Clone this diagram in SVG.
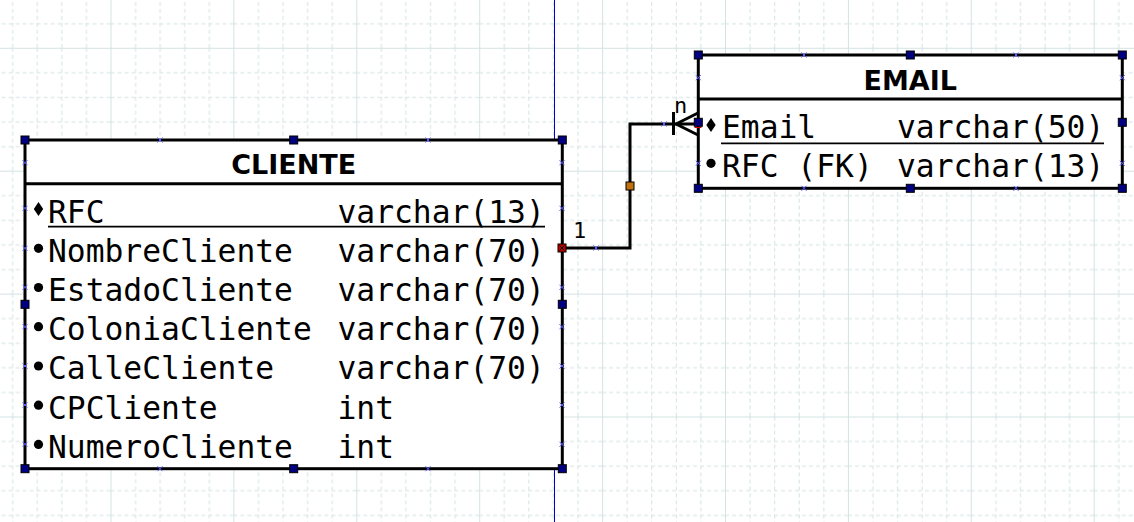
<svg xmlns="http://www.w3.org/2000/svg" width="1134" height="522" viewBox="0 0 1134 522">
<style>
.box{fill:#ffffff;stroke:#000000;stroke-width:3}
.sep{stroke:#000000;stroke-width:3}
.hdr{font-family:"DejaVu Sans","Liberation Sans",sans-serif;font-weight:bold;font-size:27px;text-anchor:middle;fill:#000}
.att{font-family:"DejaVu Sans Mono","Liberation Mono",monospace;font-size:31.3px;fill:#000}
.lbl{font-family:"DejaVu Sans Mono","Liberation Mono",monospace;font-size:22px;fill:#000}
.ul{stroke:#000;stroke-width:1.8}
.conn{fill:none;stroke:#000;stroke-width:3}
.h{fill:#000080;stroke:#000;stroke-width:1}
.cp{stroke:#5a5aff;stroke-width:1;fill:none}
</style>
<defs>
<pattern id="grid" patternUnits="userSpaceOnUse" x="110.5" y="47.8" width="122.9" height="122.9">
<g stroke="#d3e3e2" stroke-width="1" fill="none">
<path d="M0.5,0V122.9M0,0.5H122.9"/>
<path stroke-dasharray="4 3" d="M25.08,0V122.9M49.66,0V122.9M74.24,0V122.9M98.82,0V122.9M0,25.08H122.9M0,49.66H122.9M0,74.24H122.9M0,98.82H122.9"/>
</g>
</pattern>
<path id="x" d="M-2.5,-2.5L2.5,2.5M-2.5,2.5L2.5,-2.5"/>
</defs>
<rect width="1134" height="522" fill="#ffffff"/>
<rect width="1134" height="522" fill="url(#grid)"/>
<line x1="554.5" y1="0" x2="554.5" y2="522" stroke="#0000c8" stroke-width="1"/>

<g id="connectors">
<path class="conn" d="M562,248H630V124H698"/>
<path class="conn" d="M673.5,112V135" stroke-width="3.5"/>
<path class="conn" d="M676,124L698,113M676,124L698,135"/>
<text class="lbl" x="573" y="237.7">1</text>
<text class="lbl" x="674" y="112.7">n</text>
<g class="cp"><use href="#x" x="596" y="248"/><use href="#x" x="664" y="124"/></g>
</g>

<g id="cliente">
<rect class="box" x="25" y="140" width="537.3" height="328.7"/>
<line class="sep" x1="25" y1="183.7" x2="562.3" y2="183.7"/>
<text class="hdr" x="293.7" y="174">CLIENTE</text>
<line class="ul" x1="48" y1="226.7" x2="545" y2="226.7"/>
<path d="M38.5,202L43.2,209L38.5,216L33.8,209Z" fill="#000"/>
<g fill="#000">
<circle cx="38.5" cy="248.3" r="4.6"/>
<circle cx="38.5" cy="287.5" r="4.6"/>
<circle cx="38.5" cy="326.7" r="4.6"/>
<circle cx="38.5" cy="366" r="4.6"/>
<circle cx="38.5" cy="405.2" r="4.6"/>
<circle cx="38.5" cy="444.4" r="4.6"/>
</g>
<text class="att" x="48" y="222.5">RFC</text>
<text class="att" x="48" y="261.7">NombreCliente</text>
<text class="att" x="48" y="300.9">EstadoCliente</text>
<text class="att" x="48" y="340.1">ColoniaCliente</text>
<text class="att" x="48" y="379.3">CalleCliente</text>
<text class="att" x="48" y="418.5">CPCliente</text>
<text class="att" x="48" y="457.7">NumeroCliente</text>
<text class="att" x="337.5" y="222.5">varchar(13)</text>
<text class="att" x="337.5" y="261.7">varchar(70)</text>
<text class="att" x="337.5" y="300.9">varchar(70)</text>
<text class="att" x="337.5" y="340.1">varchar(70)</text>
<text class="att" x="337.5" y="379.3">varchar(70)</text>
<text class="att" x="337.5" y="418.5">int</text>
<text class="att" x="337.5" y="457.7">int</text>
<g class="cp">
<use href="#x" x="160" y="140"/><use href="#x" x="428" y="140"/>
<use href="#x" x="160" y="468.7"/><use href="#x" x="428" y="468.7"/>
<use href="#x" x="25" y="162.7"/><use href="#x" x="25" y="208.3"/><use href="#x" x="25" y="248.3"/><use href="#x" x="25" y="287.3"/><use href="#x" x="25" y="326.7"/><use href="#x" x="25" y="366"/><use href="#x" x="25" y="405"/><use href="#x" x="25" y="444.3"/>
<use href="#x" x="562" y="162.7"/><use href="#x" x="562" y="208.3"/><use href="#x" x="562" y="287.3"/><use href="#x" x="562" y="326.7"/><use href="#x" x="562" y="366"/><use href="#x" x="562" y="405"/><use href="#x" x="562" y="444.3"/>
</g>
<g>
<rect class="h" x="21" y="136" width="8" height="8"/>
<rect class="h" x="289.7" y="136" width="8" height="8"/>
<rect class="h" x="558.3" y="136" width="8" height="8"/>
<rect class="h" x="21" y="300.3" width="8" height="8"/>
<rect class="h" x="558.3" y="300.3" width="8" height="8"/>
<rect class="h" x="21" y="464.7" width="8" height="8"/>
<rect class="h" x="289.7" y="464.7" width="8" height="8"/>
<rect class="h" x="558.3" y="464.7" width="8" height="8"/>
</g>
</g>

<g id="email">
<rect class="box" x="698.3" y="55" width="424" height="133.3"/>
<line class="sep" x1="698.3" y1="99" x2="1122.3" y2="99"/>
<text class="hdr" x="910.3" y="89.5">EMAIL</text>
<line class="ul" x1="721" y1="143.3" x2="1104" y2="143.3"/>
<path d="M711,118L715.7,125L711,132L706.3,125Z" fill="#000"/>
<circle cx="711" cy="163.3" r="4.6" fill="#000"/>
<text class="att" x="722" y="138.3">Email</text>
<text class="att" x="722" y="176.7">RFC (FK)</text>
<text class="att" x="897" y="138.3">varchar(50)</text>
<text class="att" x="897" y="176.7">varchar(13)</text>
<g class="cp">
<use href="#x" x="804" y="55"/><use href="#x" x="1016" y="55"/>
<use href="#x" x="804" y="188.3"/><use href="#x" x="1016" y="188.3"/>
<use href="#x" x="698.3" y="77.7"/><use href="#x" x="698.3" y="163.3"/>
<use href="#x" x="1122.3" y="77.7"/><use href="#x" x="1122.3" y="163.3"/>
</g>
<g>
<rect class="h" x="694.3" y="51" width="8" height="8"/>
<rect class="h" x="906.3" y="51" width="8" height="8"/>
<rect class="h" x="1118.3" y="51" width="8" height="8"/>
<rect class="h" x="694.3" y="118.3" width="8" height="8"/>
<rect class="h" x="1118.3" y="118.3" width="8" height="8"/>
<rect class="h" x="694.3" y="184.3" width="8" height="8"/>
<rect class="h" x="906.3" y="184.3" width="8" height="8"/>
<rect class="h" x="1118.3" y="184.3" width="8" height="8"/>
</g>
<line x1="694.5" y1="127.5" x2="701.5" y2="127.5" stroke="#d00000" stroke-width="1"/>
</g>

<g id="handles">
<rect x="558" y="244" width="8" height="8" fill="#c00000" stroke="#000" stroke-width="1"/>
<path d="M559.5,245.5L564.5,250.5M559.5,250.5L564.5,245.5" stroke="#000" stroke-width="1"/>
<rect x="626" y="182" width="8" height="8" fill="#c0700e" stroke="#000" stroke-width="1"/>
</g>
</svg>
